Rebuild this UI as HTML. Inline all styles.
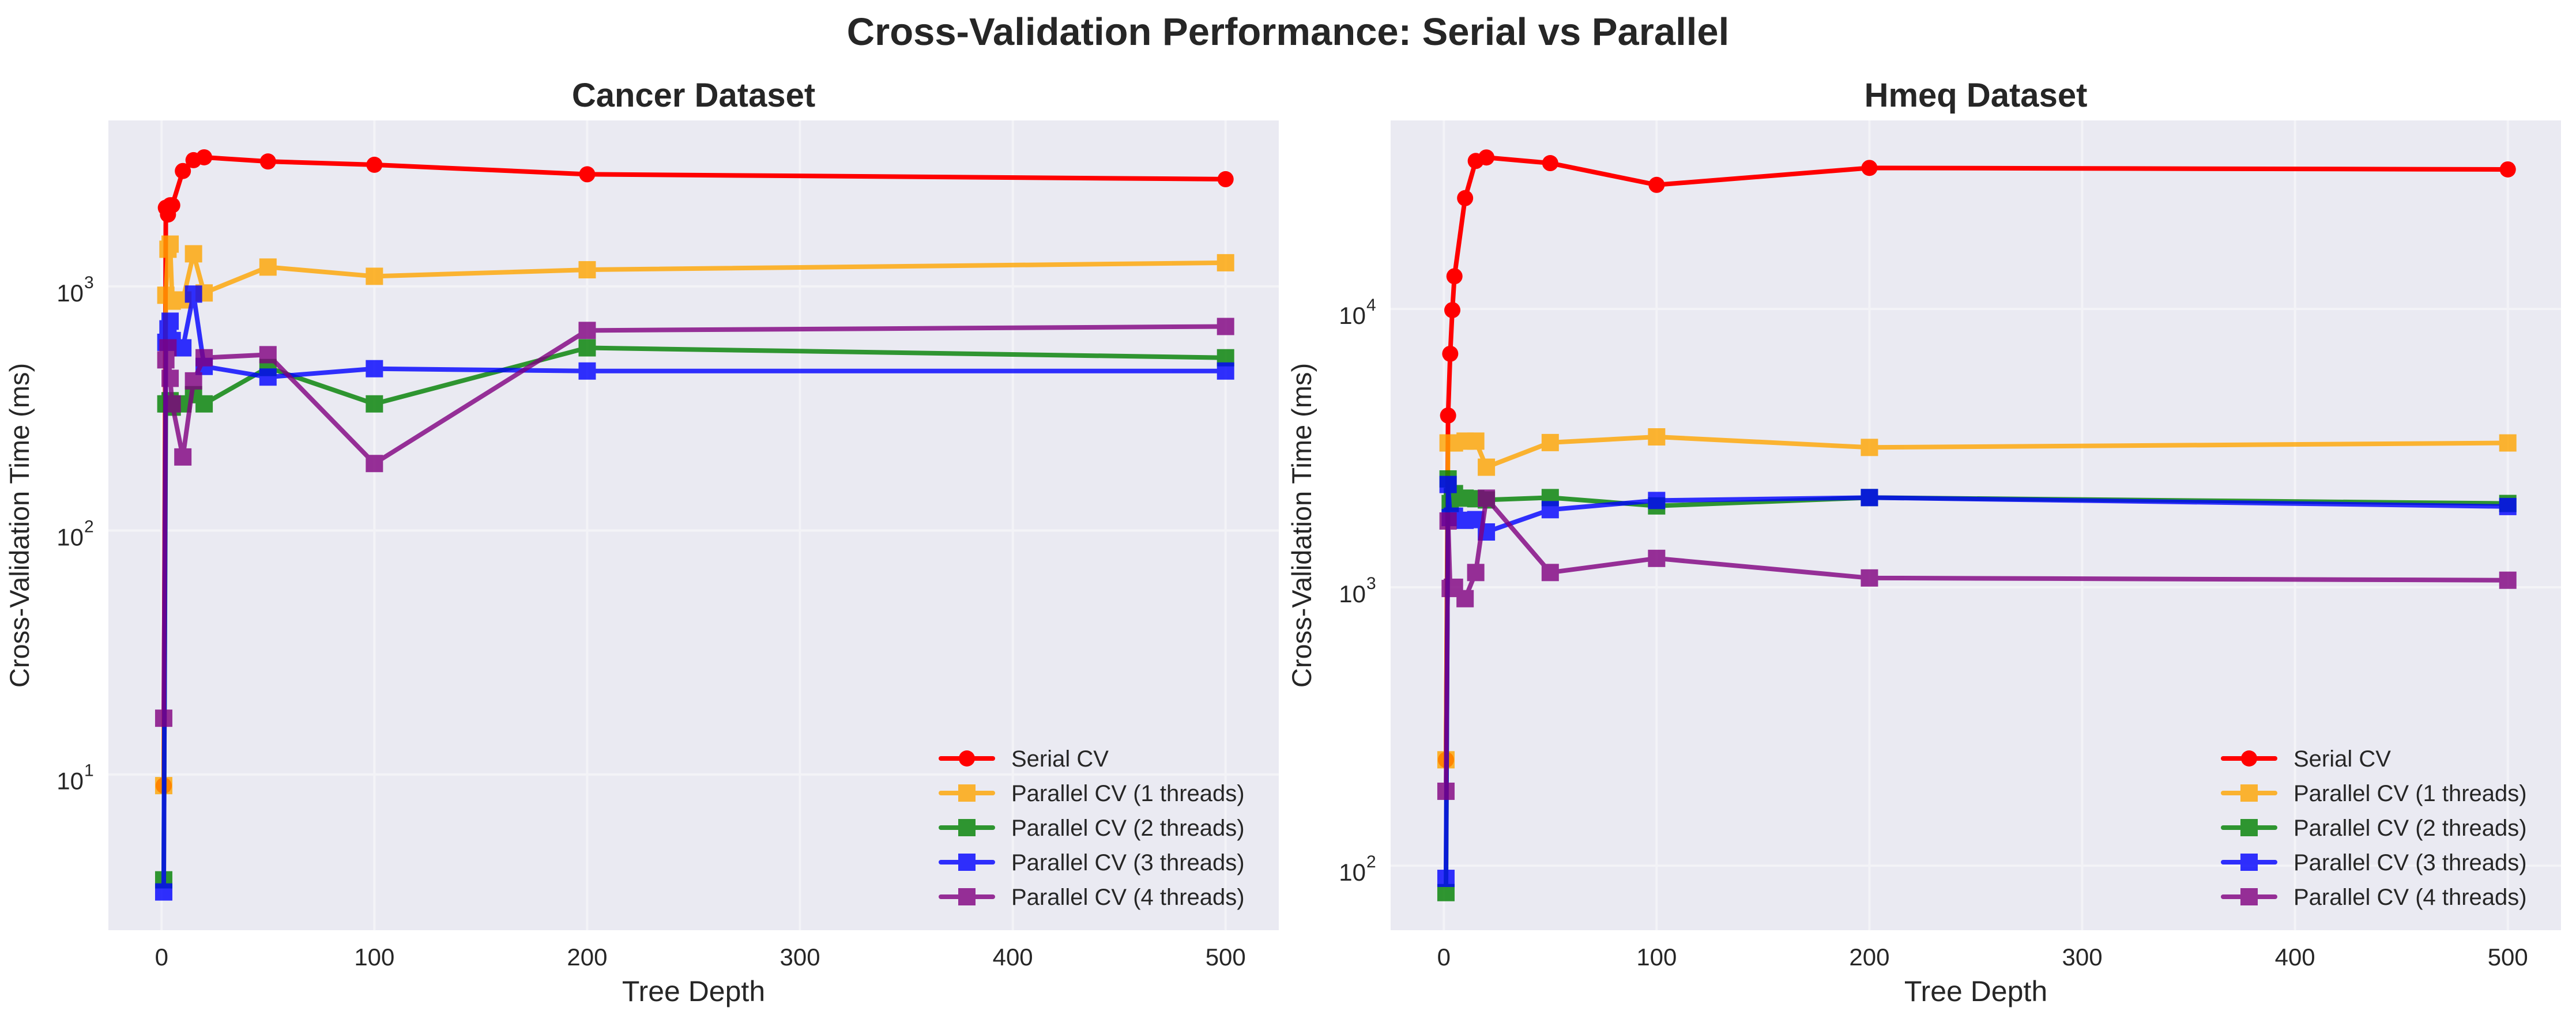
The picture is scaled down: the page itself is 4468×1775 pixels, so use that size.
<!DOCTYPE html>
<html><head><meta charset="utf-8"><style>
html,body{margin:0;padding:0;background:#fff;}
svg{display:block;font-family:"Liberation Sans",Arial,sans-serif;}
</style></head><body>
<svg id="chart" width="4468" height="1775" viewBox="0 0 4468 1775" xmlns="http://www.w3.org/2000/svg">
<text x="2234" y="78" text-anchor="middle" font-size="67" font-weight="bold" fill="#262626">Cross-Validation Performance: Serial vs Parallel</text>
<g id="p0"></g>
<g id="p1"></g>
</svg>
<script>
const depths = [1,2,3,4,5,10,15,20,50,100,200,500];
const seriesNames = ["Serial CV","Parallel CV (1 threads)","Parallel CV (2 threads)","Parallel CV (3 threads)","Parallel CV (4 threads)"];
const cancerSerial = [9,2100,1970,2150,2150,2970,3290,3380,3250,3150,2880,2750];
const cancerP1 = [9,920,1420,1490,870,880,1360,940,1200,1100,1170,1250];
const cancerP2 = [3.7,330,330,340,320,330,360,330,465,330,560,510];
const cancerP3 = [3.3,590,670,720,600,560,930,470,425,460,450,450];
const cancerP4 = [17,500,560,420,330,200,410,510,525,188,660,685];
const hmeqSerial = [240,4140,6900,9900,13100,25000,34000,35000,33400,27900,32100,31700];
const hmeqP1 = [240,3300,3300,3300,3300,3350,3350,2700,3310,3470,3180,3300];
const hmeqP2 = [80,2450,2000,2120,2170,2090,2080,2060,2100,1960,2100,2000];
const hmeqP3 = [90,2340,1780,1800,1800,1740,1750,1580,1900,2050,2100,1950];
const hmeqP4 = [185,1730,990,1000,1000,910,1130,2090,1130,1270,1080,1060];
const xTicks = [0,100,200,300,400,500];
const cancerYTicks = [1,2,3];
const hmeqYTicks = [2,3,4];

const colors = ["#ff0000","#ffa500","#008000","#0000ff","#800080"];
const NS = "http://www.w3.org/2000/svg";
function mk(tag, attrs, parent){const e=document.createElementNS(NS,tag);for(const k in attrs)e.setAttribute(k,attrs[k]);parent.appendChild(e);return e;}

const panels = [
 {g:"p0", left:188, right:2218, title:"Cancer Dataset", ymin:Math.log10(2.3), ymax:Math.log10(4786), yt:cancerYTicks, data:[cancerSerial,cancerP1,cancerP2,cancerP3,cancerP4]},
 {g:"p1", left:2412, right:4442, title:"Hmeq Dataset", ymin:1.768, ymax:4.677, yt:hmeqYTicks, data:[hmeqSerial,hmeqP1,hmeqP2,hmeqP3,hmeqP4]}
];
const plotTop=209, plotBottom=1614;

panels.forEach((p,pi)=>{
  const g=document.getElementById(p.g);
  const xs=v=>p.left+(v+25)/550*(p.right-p.left);
  const ys=v=>plotBottom-(Math.log10(v)-p.ymin)/(p.ymax-p.ymin)*(plotBottom-plotTop);
  const bg=mk("rect",{x:p.left,y:plotTop,width:p.right-p.left,height:plotBottom-plotTop,fill:"#eaeaf2"},g);
  
  
  xTicks.forEach(tk=>{
    const l=mk("line",{x1:xs(tk),x2:xs(tk),y1:plotTop,y2:plotBottom,stroke:"#f3f3f7","stroke-width":4},g);
    
    
    const tx=mk("text",{x:xs(tk),y:1675,"text-anchor":"middle","font-size":42,fill:"#262626"},g);
    
    
    tx.textContent=tk;
  });
  p.yt.forEach(e=>{
    const y=ys(Math.pow(10,e));
    const l=mk("line",{x1:p.left,x2:p.right,y1:y,y2:y,stroke:"#f3f3f7","stroke-width":4},g);
    
    
    const tx=mk("text",{x:p.left-43,y:y+26,"text-anchor":"end","font-size":42,fill:"#262626"},g);
    
    
    tx.textContent="10";
    const sp=mk("text",{x:p.left-42,y:y+3,"text-anchor":"start","font-size":30,fill:"#262626"},g);
    
    
    sp.textContent=e;
  });
  const cx=(p.left+p.right)/2;
  const ttl=mk("text",{x:cx,y:185,"text-anchor":"middle","font-size":58,"font-weight":"bold",fill:"#262626"},g);
  
  
  ttl.textContent=p.title;
  const xl=mk("text",{x:cx,y:1737,"text-anchor":"middle","font-size":50,fill:"#262626"},g);
  
  
  xl.textContent="Tree Depth";
  const ly=(plotTop+plotBottom)/2, lx=p.left-138;
  const yl=mk("text",{x:lx,y:ly,"text-anchor":"middle","font-size":47,fill:"#262626",transform:`rotate(-90 ${lx} ${ly})`},g);
  
  
  yl.textContent="Cross-Validation Time (ms)";

  p.data.forEach((vals,si)=>{
    const sg=mk("g",{opacity:si===0?1:0.8},g);
    
    
    const pts=vals.map((v,i)=>xs(depths[i])+","+ys(v)).join(" ");
    const pl=mk("polyline",{points:pts,fill:"none",stroke:colors[si],"stroke-width":8,"stroke-linejoin":"round","stroke-linecap":"round"},sg);
    
    
    vals.forEach((v,i)=>{
      let m;
      if(si===0) m=mk("circle",{cx:xs(depths[i]),cy:ys(v),r:14,fill:colors[si]},sg);
      else m=mk("rect",{x:xs(depths[i])-15,y:ys(v)-15,width:30,height:30,fill:colors[si]},sg);
      
      
    });
  });

  const lg=mk("g",{},g);
  
  
  const lx0=p.right-586;
  seriesNames.forEach((n,si)=>{
    const y=1316+si*60;
    const eg=mk("g",{opacity:si===0?1:0.8},lg);
    
    
    mk("line",{x1:lx0,x2:lx0+90,y1:y,y2:y,stroke:colors[si],"stroke-width":8,"stroke-linecap":"round"},eg);
    if(si===0) mk("circle",{cx:lx0+45,cy:y,r:14,fill:colors[si]},eg);
    else mk("rect",{x:lx0+30,y:y-15,width:30,height:30,fill:colors[si]},eg);
    const tx=mk("text",{x:lx0+122,y:y+14,"font-size":40,fill:"#262626"},lg);
    
    
    tx.textContent=n;
  });
});
</script>
</body></html>
